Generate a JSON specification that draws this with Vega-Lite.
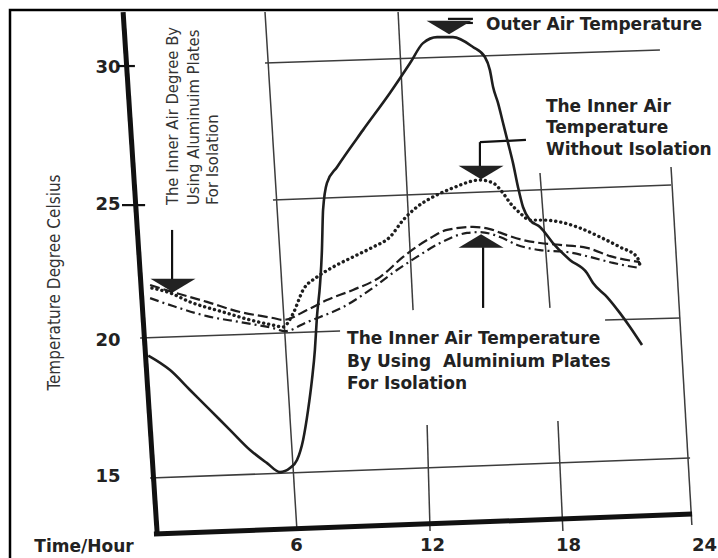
{
  "$schema": "https://vega.github.io/schema/vega-lite/v6.json",
  "width": 716,
  "height": 556,
  "autosize": {"type": "none"},
  "padding": {"left": 10, "top": 10, "right": -8, "bottom": -8},
  "background": "white",
  "config": {"view": {"stroke": "#000", "strokeWidth": 2.5}},
  "datasets": {
    "curves": [
      {"s":"outer","h":0.1,"t":19.45},{"s":"outer","h":1.06,"t":18.92},{"s":"outer","h":1.94,"t":18.19},{"s":"outer","h":2.82,"t":17.46},{"s":"outer","h":3.71,"t":16.72},{"s":"outer","h":4.59,"t":15.99},{"s":"outer","h":5.34,"t":15.51},{"s":"outer","h":5.91,"t":15.18},{"s":"outer","h":6.35,"t":15.33},{"s":"outer","h":6.66,"t":15.62},{"s":"outer","h":6.93,"t":16.36},{"s":"outer","h":7.15,"t":17.46},{"s":"outer","h":7.32,"t":18.56},{"s":"outer","h":7.45,"t":19.66},{"s":"outer","h":7.54,"t":20.87},{"s":"outer","h":7.68,"t":22.11},{"s":"outer","h":7.76,"t":23.32},{"s":"outer","h":7.81,"t":24.79},{"s":"outer","h":7.98,"t":25.78},{"s":"outer","h":8.43,"t":26.37},{"s":"outer","h":9.57,"t":27.72},{"s":"outer","h":10.76,"t":29.08},{"s":"outer","h":11.65,"t":30.18},{"s":"outer","h":12.22,"t":30.91},{"s":"outer","h":12.84,"t":31.13},{"s":"outer","h":13.54,"t":31.13},{"s":"outer","h":14.42,"t":30.77},{"s":"outer","h":14.95,"t":30.4},{"s":"outer","h":15.17,"t":29.92},{"s":"outer","h":15.31,"t":29.3},{"s":"outer","h":15.53,"t":28.71},{"s":"outer","h":15.75,"t":27.98},{"s":"outer","h":15.97,"t":27.25},{"s":"outer","h":16.19,"t":26.51},{"s":"outer","h":16.41,"t":25.63},{"s":"outer","h":16.63,"t":24.9},{"s":"outer","h":16.94,"t":24.42},{"s":"outer","h":17.38,"t":24.17},{"s":"outer","h":17.95,"t":23.58},{"s":"outer","h":18.7,"t":22.96},{"s":"outer","h":19.45,"t":22.48},{"s":"outer","h":19.72,"t":22.11},{"s":"outer","h":20.34,"t":21.6},{"s":"outer","h":20.91,"t":21.01},{"s":"outer","h":21.35,"t":20.5},{"s":"outer","h":21.88,"t":19.84},
      {"s":"without","h":0.26,"t":21.93},{"s":"without","h":1.06,"t":21.75},{"s":"without","h":1.94,"t":21.42},{"s":"without","h":3.4,"t":21.05},{"s":"without","h":4.59,"t":20.76},{"s":"without","h":5.6,"t":20.57},{"s":"without","h":6.04,"t":20.5},{"s":"without","h":6.48,"t":20.98},{"s":"without","h":6.93,"t":21.86},{"s":"without","h":7.54,"t":22.33},{"s":"without","h":8.25,"t":22.7},{"s":"without","h":9.13,"t":23.07},{"s":"without","h":10.01,"t":23.43},{"s":"without","h":10.76,"t":23.8},{"s":"without","h":11.34,"t":24.42},{"s":"without","h":11.95,"t":24.9},{"s":"without","h":12.66,"t":25.27},{"s":"without","h":13.54,"t":25.6},{"s":"without","h":14.73,"t":25.89},{"s":"without","h":15.31,"t":25.78},{"s":"without","h":15.75,"t":25.41},{"s":"without","h":16.06,"t":25.05},{"s":"without","h":16.5,"t":24.68},{"s":"without","h":16.94,"t":24.42},{"s":"without","h":17.51,"t":24.42},{"s":"without","h":18.26,"t":24.35},{"s":"without","h":19.14,"t":24.13},{"s":"without","h":20.03,"t":23.8},{"s":"without","h":20.91,"t":23.43},{"s":"without","h":21.66,"t":23.07},{"s":"without","h":21.79,"t":22.77},
      {"s":"alu_dash","h":0.18,"t":22.04},{"s":"alu_dash","h":1.19,"t":21.78},{"s":"alu_dash","h":2.69,"t":21.42},{"s":"alu_dash","h":4.15,"t":21.05},{"s":"alu_dash","h":5.6,"t":20.83},{"s":"alu_dash","h":6.04,"t":20.76},{"s":"alu_dash","h":7.1,"t":21.12},{"s":"alu_dash","h":7.98,"t":21.49},{"s":"alu_dash","h":9.13,"t":21.86},{"s":"alu_dash","h":10.32,"t":22.33},{"s":"alu_dash","h":11.34,"t":23.07},{"s":"alu_dash","h":12.4,"t":23.69},{"s":"alu_dash","h":13.28,"t":24.06},{"s":"alu_dash","h":14.42,"t":24.17},{"s":"alu_dash","h":15.17,"t":24.09},{"s":"alu_dash","h":15.92,"t":23.87},{"s":"alu_dash","h":16.63,"t":23.69},{"s":"alu_dash","h":17.38,"t":23.58},{"s":"alu_dash","h":18.26,"t":23.51},{"s":"alu_dash","h":19.45,"t":23.4},{"s":"alu_dash","h":20.6,"t":23.07},{"s":"alu_dash","h":21.79,"t":22.88},
      {"s":"alu_dashdot","h":0.18,"t":21.56},{"s":"alu_dashdot","h":1.19,"t":21.27},{"s":"alu_dashdot","h":2.69,"t":20.9},{"s":"alu_dashdot","h":4.15,"t":20.68},{"s":"alu_dashdot","h":5.6,"t":20.46},{"s":"alu_dashdot","h":6.13,"t":20.35},{"s":"alu_dashdot","h":7.1,"t":20.68},{"s":"alu_dashdot","h":7.68,"t":20.87},{"s":"alu_dashdot","h":8.69,"t":21.23},{"s":"alu_dashdot","h":9.88,"t":21.86},{"s":"alu_dashdot","h":11.07,"t":22.59},{"s":"alu_dashdot","h":11.95,"t":23.07},{"s":"alu_dashdot","h":12.97,"t":23.58},{"s":"alu_dashdot","h":14.16,"t":23.95},{"s":"alu_dashdot","h":14.73,"t":23.98},{"s":"alu_dashdot","h":15.62,"t":23.8},{"s":"alu_dashdot","h":16.37,"t":23.51},{"s":"alu_dashdot","h":17.38,"t":23.32},{"s":"alu_dashdot","h":18.57,"t":23.25},{"s":"alu_dashdot","h":19.58,"t":23.07},{"s":"alu_dashdot","h":20.6,"t":22.85},{"s":"alu_dashdot","h":21.79,"t":22.66}
    ],
    "grid": [
      {"h":5.25,"t":32.05,"h2":6.66,"t2":13.02},
      {"h":11.12,"t":32.05,"h2":11.78,"t2":21.12},
      {"h":12.4,"t":16.91,"h2":12.53,"t2":13.02},
      {"h":17.38,"t":26.15,"h2":17.82,"t2":21.2},
      {"h":18.17,"t":17.05,"h2":18.39,"t2":13.02},
      {"h":23.16,"t":26.37,"h2":24.08,"t2":13.24},
      {"h":5.25,"t":30.18,"h2":22.67,"t2":30.66},
      {"h":5.6,"t":25.16,"h2":23.16,"t2":25.71},
      {"h":-0.26,"t":20.1,"h2":8.56,"t2":20.35},
      {"h":20.25,"t":20.76,"h2":23.56,"t2":20.83},
      {"h":0.18,"t":14.96,"h2":24.0,"t2":15.7}
    ],
    "axislines": [
      {"h":-1.01,"t":32.05,"h2":0.49,"t2":12.95},
      {"h":0.35,"t":12.91,"h2":24.09,"t2":13.64}
    ],
    "leaders": [
      {"h":-1.24,"t":30.07,"h2":-0.49,"t2":30.07},
      {"h":-1.06,"t":24.97,"h2":-0.04,"t2":24.97},
      {"h":14.73,"t":27.28,"h2":16.76,"t2":27.36},
      {"h":14.73,"t":27.28,"h2":14.73,"t2":26.37},
      {"h":14.87,"t":23.43,"h2":14.87,"t2":21.2},
      {"h":1.15,"t":24.06,"h2":1.15,"t2":22.22},
      {"h":13.32,"t":31.8,"h2":14.42,"t2":31.8},
      {"h":13.32,"t":31.65,"h2":14.42,"t2":31.65}
    ],
    "arrows": [
      {"h":13.37,"t":31.48,"dir":"down"},
      {"h":14.78,"t":26.17,"dir":"down"},
      {"h":14.78,"t":23.65,"dir":"up"},
      {"h":1.19,"t":22.02,"dir":"down"}
    ],
    "notes": [
      {"h":15.0,"t":31.39,"label":"Outer Air Temperature"},
      {"h":17.64,"t":28.38,"label":"The Inner Air"},
      {"h":17.64,"t":27.6,"label":"Temperature"},
      {"h":17.64,"t":26.81,"label":"Without Isolation"},
      {"h":8.87,"t":19.88,"label":"The Inner Air Temperature"},
      {"h":8.87,"t":19.05,"label":"By Using \u00a0Aluminium Plates"},
      {"h":8.87,"t":18.23,"label":"For Isolation"}
    ],
    "vnotes": [
      {"h":1.2,"t":24.97,"label":"The Inner Air Degree By"},
      {"h":2.1,"t":24.97,"label":"Using Aluminuim Plates"},
      {"h":2.97,"t":24.97,"label":"For Isolation"}
    ]
  },
  "encoding": {
    "x": {
      "field": "h", "type": "quantitative",
      "scale": {"domain": [-6, 25.585], "nice": false, "zero": false},
      "axis": {
        "values": [6, 12, 18, 24], "offset": -29, "domain": false, "ticks": false, "tickSize": 0, "grid": false,
        "labelPadding": 8, "labelBaseline": "middle", "labelOffset": 14, "labelFlush": false,
        "labelFont": "DejaVu Sans", "labelFontWeight": "bold", "labelFontSize": 18, "labelColor": "#222",
        "title": "Time/Hour", "titleFont": "DejaVu Sans", "titleFontWeight": "bold", "titleFontSize": 17, "titleColor": "#222",
        "titleX": 73.5, "titleY": 9, "titleAlign": "center", "titleBaseline": "middle"
      }
    },
    "y": {
      "field": "t", "type": "quantitative",
      "scale": {"domain": [11.736, 32.125], "nice": false, "zero": false},
      "axis": {
        "values": [15, 20, 25, 30], "offset": -116, "domain": false, "ticks": false, "tickSize": 0, "grid": false,
        "labelPadding": 6, "labelFlush": false,
        "labelFont": "DejaVu Sans", "labelFontWeight": "bold", "labelFontSize": 18, "labelColor": "#222",
        "title": "Temperature Degree Celsius", "titleFont": "DejaVu Sans Condensed, sans-serif",
        "titleFontWeight": "normal", "titleFontSize": 17, "titleColor": "#333",
        "titleX": -72, "titleY": 272, "titleAngle": 270, "titleAlign": "center", "titleBaseline": "middle"
      }
    }
  },
  "layer": [
    {"data": {"name": "grid"}, "mark": {"type": "rule", "stroke": "#3c3c3c", "strokeWidth": 1.5}, "encoding": {"x2": {"field": "h2"}, "y2": {"field": "t2"}}},
    {"data": {"name": "axislines"}, "mark": {"type": "rule", "stroke": "#111", "strokeWidth": 5}, "encoding": {"x2": {"field": "h2"}, "y2": {"field": "t2"}}},
    {"data": {"name": "leaders"}, "mark": {"type": "rule", "stroke": "#111", "strokeWidth": 2.2}, "encoding": {"x2": {"field": "h2"}, "y2": {"field": "t2"}}},
    {"data": {"name": "curves"}, "transform": [{"filter": {"field": "s", "equal": "outer"}}], "mark": {"type": "line", "stroke": "#1e1e1e", "strokeWidth": 2.6, "interpolate": "monotone"}, "encoding": {}},
    {"data": {"name": "curves"}, "transform": [{"filter": {"field": "s", "equal": "without"}}], "mark": {"type": "line", "stroke": "#1e1e1e", "strokeWidth": 3.4, "strokeDash": [0.1, 5], "strokeCap": "round", "interpolate": "monotone"}, "encoding": {}},
    {"data": {"name": "curves"}, "transform": [{"filter": {"field": "s", "equal": "alu_dash"}}], "mark": {"type": "line", "stroke": "#1e1e1e", "strokeWidth": 2.2, "strokeDash": [10, 4], "interpolate": "monotone"}, "encoding": {}},
    {"data": {"name": "curves"}, "transform": [{"filter": {"field": "s", "equal": "alu_dashdot"}}], "mark": {"type": "line", "stroke": "#1e1e1e", "strokeWidth": 2.2, "strokeDash": [9, 4, 2, 4], "interpolate": "monotone"}, "encoding": {}},
    {"data": {"name": "arrows"}, "mark": {"type": "point", "filled": true, "color": "#222", "opacity": 1, "size": 2025},
     "encoding": {"shape": {"field": "dir", "type": "nominal", "scale": {"domain": ["down", "up"], "range": ["M-1,-0.3L1,-0.3L0,0.3Z", "M-1,0.3L1,0.3L0,-0.3Z"]}, "legend": null}}},
    {"data": {"name": "notes"}, "mark": {"type": "text", "align": "left", "baseline": "alphabetic", "font": "DejaVu Sans", "fontWeight": "bold", "fontSize": 17, "fill": "#222"},
     "encoding": {"text": {"field": "label"}}},
    {"data": {"name": "vnotes"}, "mark": {"type": "text", "align": "left", "baseline": "middle", "angle": 270, "font": "DejaVu Sans Condensed, sans-serif", "fontSize": 16.5, "fill": "#333"},
     "encoding": {"text": {"field": "label"}}}
  ]
}
